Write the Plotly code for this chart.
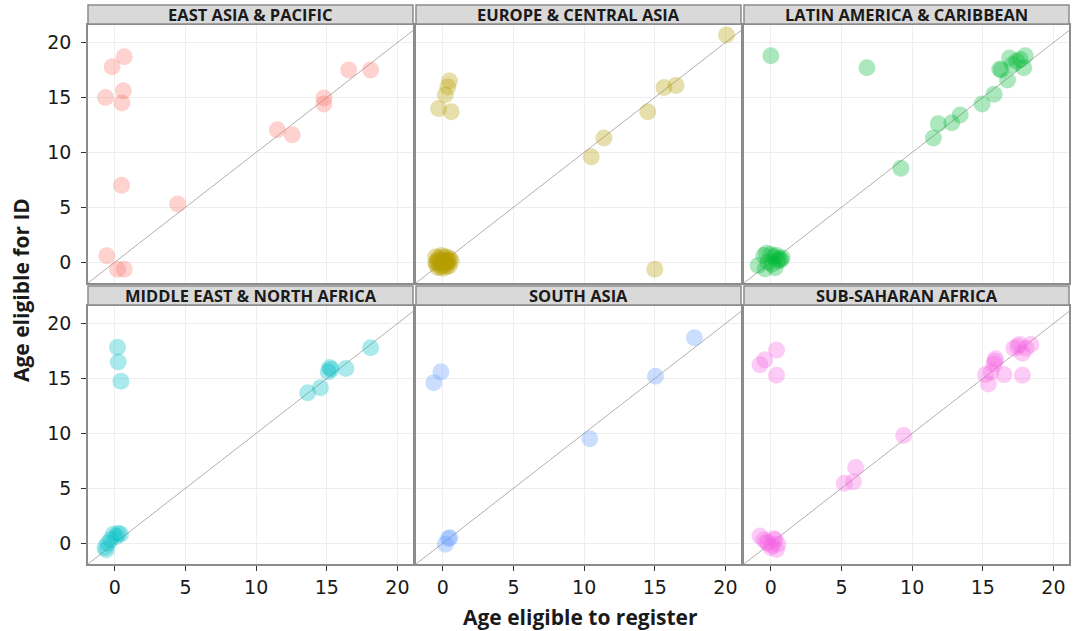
import plotly.graph_objects as go

# Regions, facet order and colours
regions = ["EAST ASIA & PACIFIC", "EUROPE & CENTRAL ASIA", "LATIN AMERICA & CARIBBEAN",
           "MIDDLE EAST & NORTH AFRICA", "SOUTH ASIA", "SUB-SAHARAN AFRICA"]
colors = ["#F8766D", "#B79F00", "#00BA38", "#00BFC4", "#619CFF", "#F564E3"]

# Age eligible to register (x) and age eligible for ID (y), per region
eap_x = [0.66, -0.19, 0.6, -0.66, 0.5, 11.5, 12.55, 14.8, 14.8, 16.55, 18.1, 0.47, 4.45, -0.57, 0.19, 0.66]
eap_y = [18.7, 17.8, 15.6, 15.0, 14.5, 12.05, 11.6, 14.95, 14.4, 17.5, 17.5, 7.0, 5.3, 0.58, -0.64, -0.64]

eca_x = [20.07, 0.47, 0.35, 0.17, -0.3, 0.59, 15.65, 16.5, 14.5, 11.4, 10.5, 15.0,
         -0.5, -0.3, -0.1, 0.1, 0.3, 0.5, -0.4, -0.2, 0.0, 0.2, 0.4, 0.6,
         -0.45, -0.25, -0.05, 0.15, 0.35, -0.35, -0.15, 0.05, 0.25, 0.45, -0.5, 0.0, 0.3]
eca_y = [20.7, 16.5, 15.95, 15.25, 14.0, 13.7, 15.9, 16.1, 13.7, 11.3, 9.6, -0.64,
         0.5, 0.4, 0.6, 0.5, 0.45, 0.3, 0.1, 0.2, 0.15, 0.05, 0.2, 0.1,
         -0.2, -0.1, -0.3, -0.2, -0.1, -0.5, -0.45, -0.55, -0.4, -0.35, 0.0, 0.0, 0.1]

lac_x = [0.0, 6.8, 9.2, 11.5, 11.85, 12.8, 13.4, 14.95, 15.8, 16.75, 16.2, 16.3, 16.9, 17.65, 18.0, 17.9, 17.4, 17.1,
         -0.9, -0.5, -0.3, 0.0, 0.2, 0.4, 0.6, 0.8, -0.2, 0.1, 0.5, 0.3, -0.4, 0.7]
lac_y = [18.8, 17.7, 8.55, 11.3, 12.6, 12.7, 13.4, 14.4, 15.3, 16.6, 17.6, 17.5, 18.6, 18.45, 18.8, 17.7, 18.3, 18.0,
         -0.3, 0.6, 0.8, 0.7, 0.5, 0.6, 0.3, 0.4, 0.0, -0.2, 0.1, -0.5, -0.6, 0.2]

mena_x = [0.19, 0.24, 0.43, 13.65, 14.55, 15.3, 15.2, 16.35, 18.1, 15.1,
          -0.7, -0.5, -0.3, -0.1, 0.1, 0.24, 0.4, -0.6]
mena_y = [17.85, 16.5, 14.75, 13.7, 14.15, 15.85, 16.0, 15.9, 17.8, 15.6,
          -0.4, 0.0, 0.3, 0.8, 0.6, 0.9, 0.8, -0.6]

sa_x = [17.8, 15.05, 10.4, -0.14, -0.64, 0.4, 0.17, 0.5]
sa_y = [18.7, 15.2, 9.5, 15.6, 14.6, 0.43, -0.1, 0.5]

ssa_x = [0.4, -0.42, -0.77, 0.4, 9.4, 6.0, 5.85, 5.2,
         15.2, 15.4, 15.9, 15.8, 15.6, 16.5, 17.8, 17.2, 17.6, 18.05, 18.4, 17.8, 17.45, 15.85,
         -0.77, -0.5, -0.2, 0.1, 0.4, 0.3, 0.0, -0.3, 0.5, 0.2]
ssa_y = [17.6, 16.7, 16.25, 15.3, 9.8, 6.9, 5.6, 5.45,
         15.35, 14.5, 16.8, 16.3, 15.6, 15.35, 15.3, 17.75, 18.1, 17.75, 18.1, 17.3, 17.9, 16.6,
         0.64, 0.3, 0.0, -0.2, -0.57, 0.3, -0.4, 0.1, -0.1, 0.4]

xs = [eap_x, eca_x, lac_x, mena_x, sa_x, ssa_x]
ys = [eap_y, eca_y, lac_y, mena_y, sa_y, ssa_y]

tick_vals = [0, 5, 10, 15, 20]
tick_text = ["0", "5", "10", "15", "20"]
x_range = [-1.9, 21.1]
y_range = [-1.9, 21.6]

W, H = 1073, 631
col_px = [(88, 413), (416, 741), (744, 1069)]
row_px = [(25, 283), (306, 564)]       # plot area, top/bottom in pixels
strip_px = [(5, 24), (286, 305)]

fig = go.Figure()
layout = dict(
    width=W, height=H,
    margin=dict(l=0, r=0, t=0, b=0),
    paper_bgcolor="white", plot_bgcolor="white",
    showlegend=False,
    font=dict(family="Open Sans, sans-serif", color="#1a1a1a"),
)
shapes = []
annotations = []

for i, name in enumerate(regions):
    r, c = divmod(i, 3)
    n = i + 1
    xa = "x" if n == 1 else f"x{n}"
    ya = "y" if n == 1 else f"y{n}"
    x0p, x1p = col_px[c]
    y0p, y1p = row_px[r]
    dom_x = [x0p / W, x1p / W]
    dom_y = [1 - y1p / H, 1 - y0p / H]

    fig.add_trace(go.Scatter(
        x=[-5, 25], y=[-5, 25], mode="lines",
        line=dict(color="rgba(150,140,140,0.7)", width=1),
        xaxis=xa, yaxis=ya, hoverinfo="skip"))
    fig.add_trace(go.Scatter(
        x=xs[i], y=ys[i], mode="markers",
        marker=dict(size=17, color=colors[i], opacity=0.33, line=dict(width=0)),
        xaxis=xa, yaxis=ya, name=name))

    axis_common = dict(
        showgrid=True, gridcolor="#eeeeee", gridwidth=1, zeroline=False,
        showline=True, linecolor="#8c8c8c", linewidth=1.5, mirror=True,
        tickvals=tick_vals, ticktext=tick_text,
        tickfont=dict(family="DejaVu Sans, sans-serif", size=19, color="#1a1a1a"),
        ticklen=5, tickcolor="#333333", tickwidth=1,
    )
    xkey = "xaxis" if n == 1 else f"xaxis{n}"
    ykey = "yaxis" if n == 1 else f"yaxis{n}"
    layout[xkey] = dict(axis_common, domain=dom_x, range=x_range, anchor=ya,
                        showticklabels=(r == 1), ticks="outside" if r == 1 else "")
    layout[ykey] = dict(axis_common, domain=dom_y, range=y_range, anchor=xa,
                        showticklabels=(c == 0), ticks="outside" if c == 0 else "",
                        ticklabelstandoff=6)

    # facet strip
    s0, s1 = strip_px[r]
    shapes.append(dict(type="rect", xref="paper", yref="paper",
                       x0=x0p / W, x1=x1p / W, y0=1 - s1 / H, y1=1 - s0 / H,
                       fillcolor="#d9d9d9", line=dict(color="#8c8c8c", width=1.5)))
    annotations.append(dict(text=f"<b>{name}</b>", xref="paper", yref="paper",
                            x=(x0p + x1p) / 2 / W, y=1 - (s0 + s1) / 2 / H,
                            showarrow=False, xanchor="center", yanchor="middle",
                            font=dict(size=16.5, color="#1a1a1a")))

annotations.append(dict(text="<b>Age eligible to register</b>", xref="paper", yref="paper",
                        x=580 / W, y=1 - 617 / H, showarrow=False,
                        xanchor="center", yanchor="middle", font=dict(size=21, color="#1a1a1a")))
annotations.append(dict(text="<b>Age eligible for ID</b>", xref="paper", yref="paper",
                        x=21 / W, y=1 - 290 / H, showarrow=False, textangle=-90,
                        xanchor="center", yanchor="middle", font=dict(size=21, color="#1a1a1a")))

layout["shapes"] = shapes
layout["annotations"] = annotations
fig.update_layout(**layout)
fig.write_html("out.html")
